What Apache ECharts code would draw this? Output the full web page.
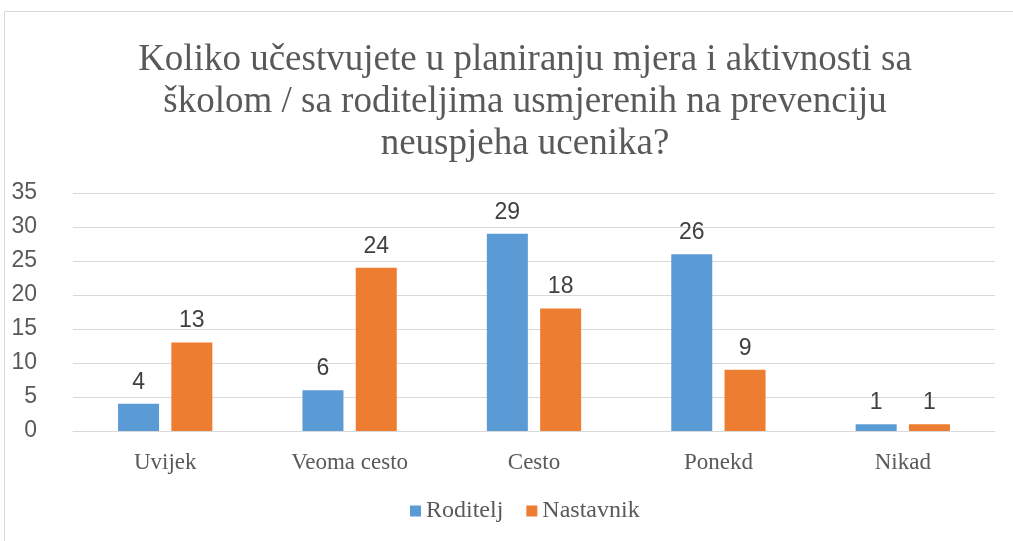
<!DOCTYPE html>
<html>
<head>
<meta charset="utf-8">
<script src="https://cdn.jsdelivr.net/npm/echarts@6/dist/echarts.min.js"></script>
<style>
  html, body { margin: 0; padding: 0; background: #fff; }
  #chart { width: 1013px; height: 541px; }
  .frame { position: absolute; left: 4px; top: 11px; width: 1020px; height: 540px; border: 1px solid #d9d9d9; box-sizing: border-box; pointer-events: none; }
</style>
</head>
<body>
<div id="chart"></div>
<div class="frame"></div>
<script>
  const categories = ['Uvijek', 'Veoma cesto', 'Cesto', 'Ponekd', 'Nikad']
  const roditelj = [4, 6, 29, 26, 1]
  const nastavnik = [13, 24, 18, 9, 1]
  const titleText = 'Koliko učestvujete u planiranju mjera i aktivnosti sa\nškolom / sa roditeljima usmjerenih na prevenciju\nneuspjeha ucenika?'

  const blue = '#5b9bd5'
  const orange = '#ed7d31'
  const textColor = '#595959'

  const chart = echarts.init(document.getElementById('chart'))

  const labelStyle = {
    show: true,
    position: 'top',
    distance: 10,
    color: '#404040',
    fontFamily: 'Liberation Sans',
    fontSize: 23
  }

  chart.setOption({
    animation: false,
    title: {
      text: titleText,
      left: 520,
      textAlign: 'center',
      top: 34,
      textStyle: {
        fontFamily: 'Liberation Serif',
        fontWeight: 'normal',
        fontSize: 37,
        lineHeight: 42,
        color: textColor
      }
    },
    legend: {
      data: ['Roditelj', 'Nastavnik'],
      bottom: 13,
      left: 405,
      itemWidth: 11,
      itemHeight: 11,
      itemGap: 23,
      icon: 'rect',
      textStyle: {
        fontFamily: 'Liberation Serif',
        fontSize: 24,
        color: textColor
      }
    },
    grid: {
      left: 73,
      right: 18,
      top: 193,
      bottom: 110,
      containLabel: false
    },
    xAxis: {
      type: 'category',
      data: categories,
      axisTick: { show: false },
      axisLine: { lineStyle: { color: '#d9d9d9', width: 1 } },
      axisLabel: {
        fontFamily: 'Liberation Serif',
        fontSize: 23,
        color: textColor,
        margin: 20
      }
    },
    yAxis: {
      type: 'value',
      min: 0,
      max: 35,
      interval: 5,
      axisLine: { show: false },
      axisTick: { show: false },
      splitLine: { lineStyle: { color: '#d9d9d9', width: 1 } },
      axisLabel: {
        fontFamily: 'Liberation Sans',
        fontSize: 23,
        color: textColor,
        margin: 36
      }
    },
    series: [
      {
        name: 'Roditelj',
        type: 'bar',
        data: roditelj,
        barWidth: 41,
        barGap: '30%',
        itemStyle: { color: blue },
        label: labelStyle
      },
      {
        name: 'Nastavnik',
        type: 'bar',
        data: nastavnik,
        barWidth: 41,
        barGap: '30%',
        itemStyle: { color: orange },
        label: labelStyle
      }
    ]
  })
</script>
</body>
</html>
